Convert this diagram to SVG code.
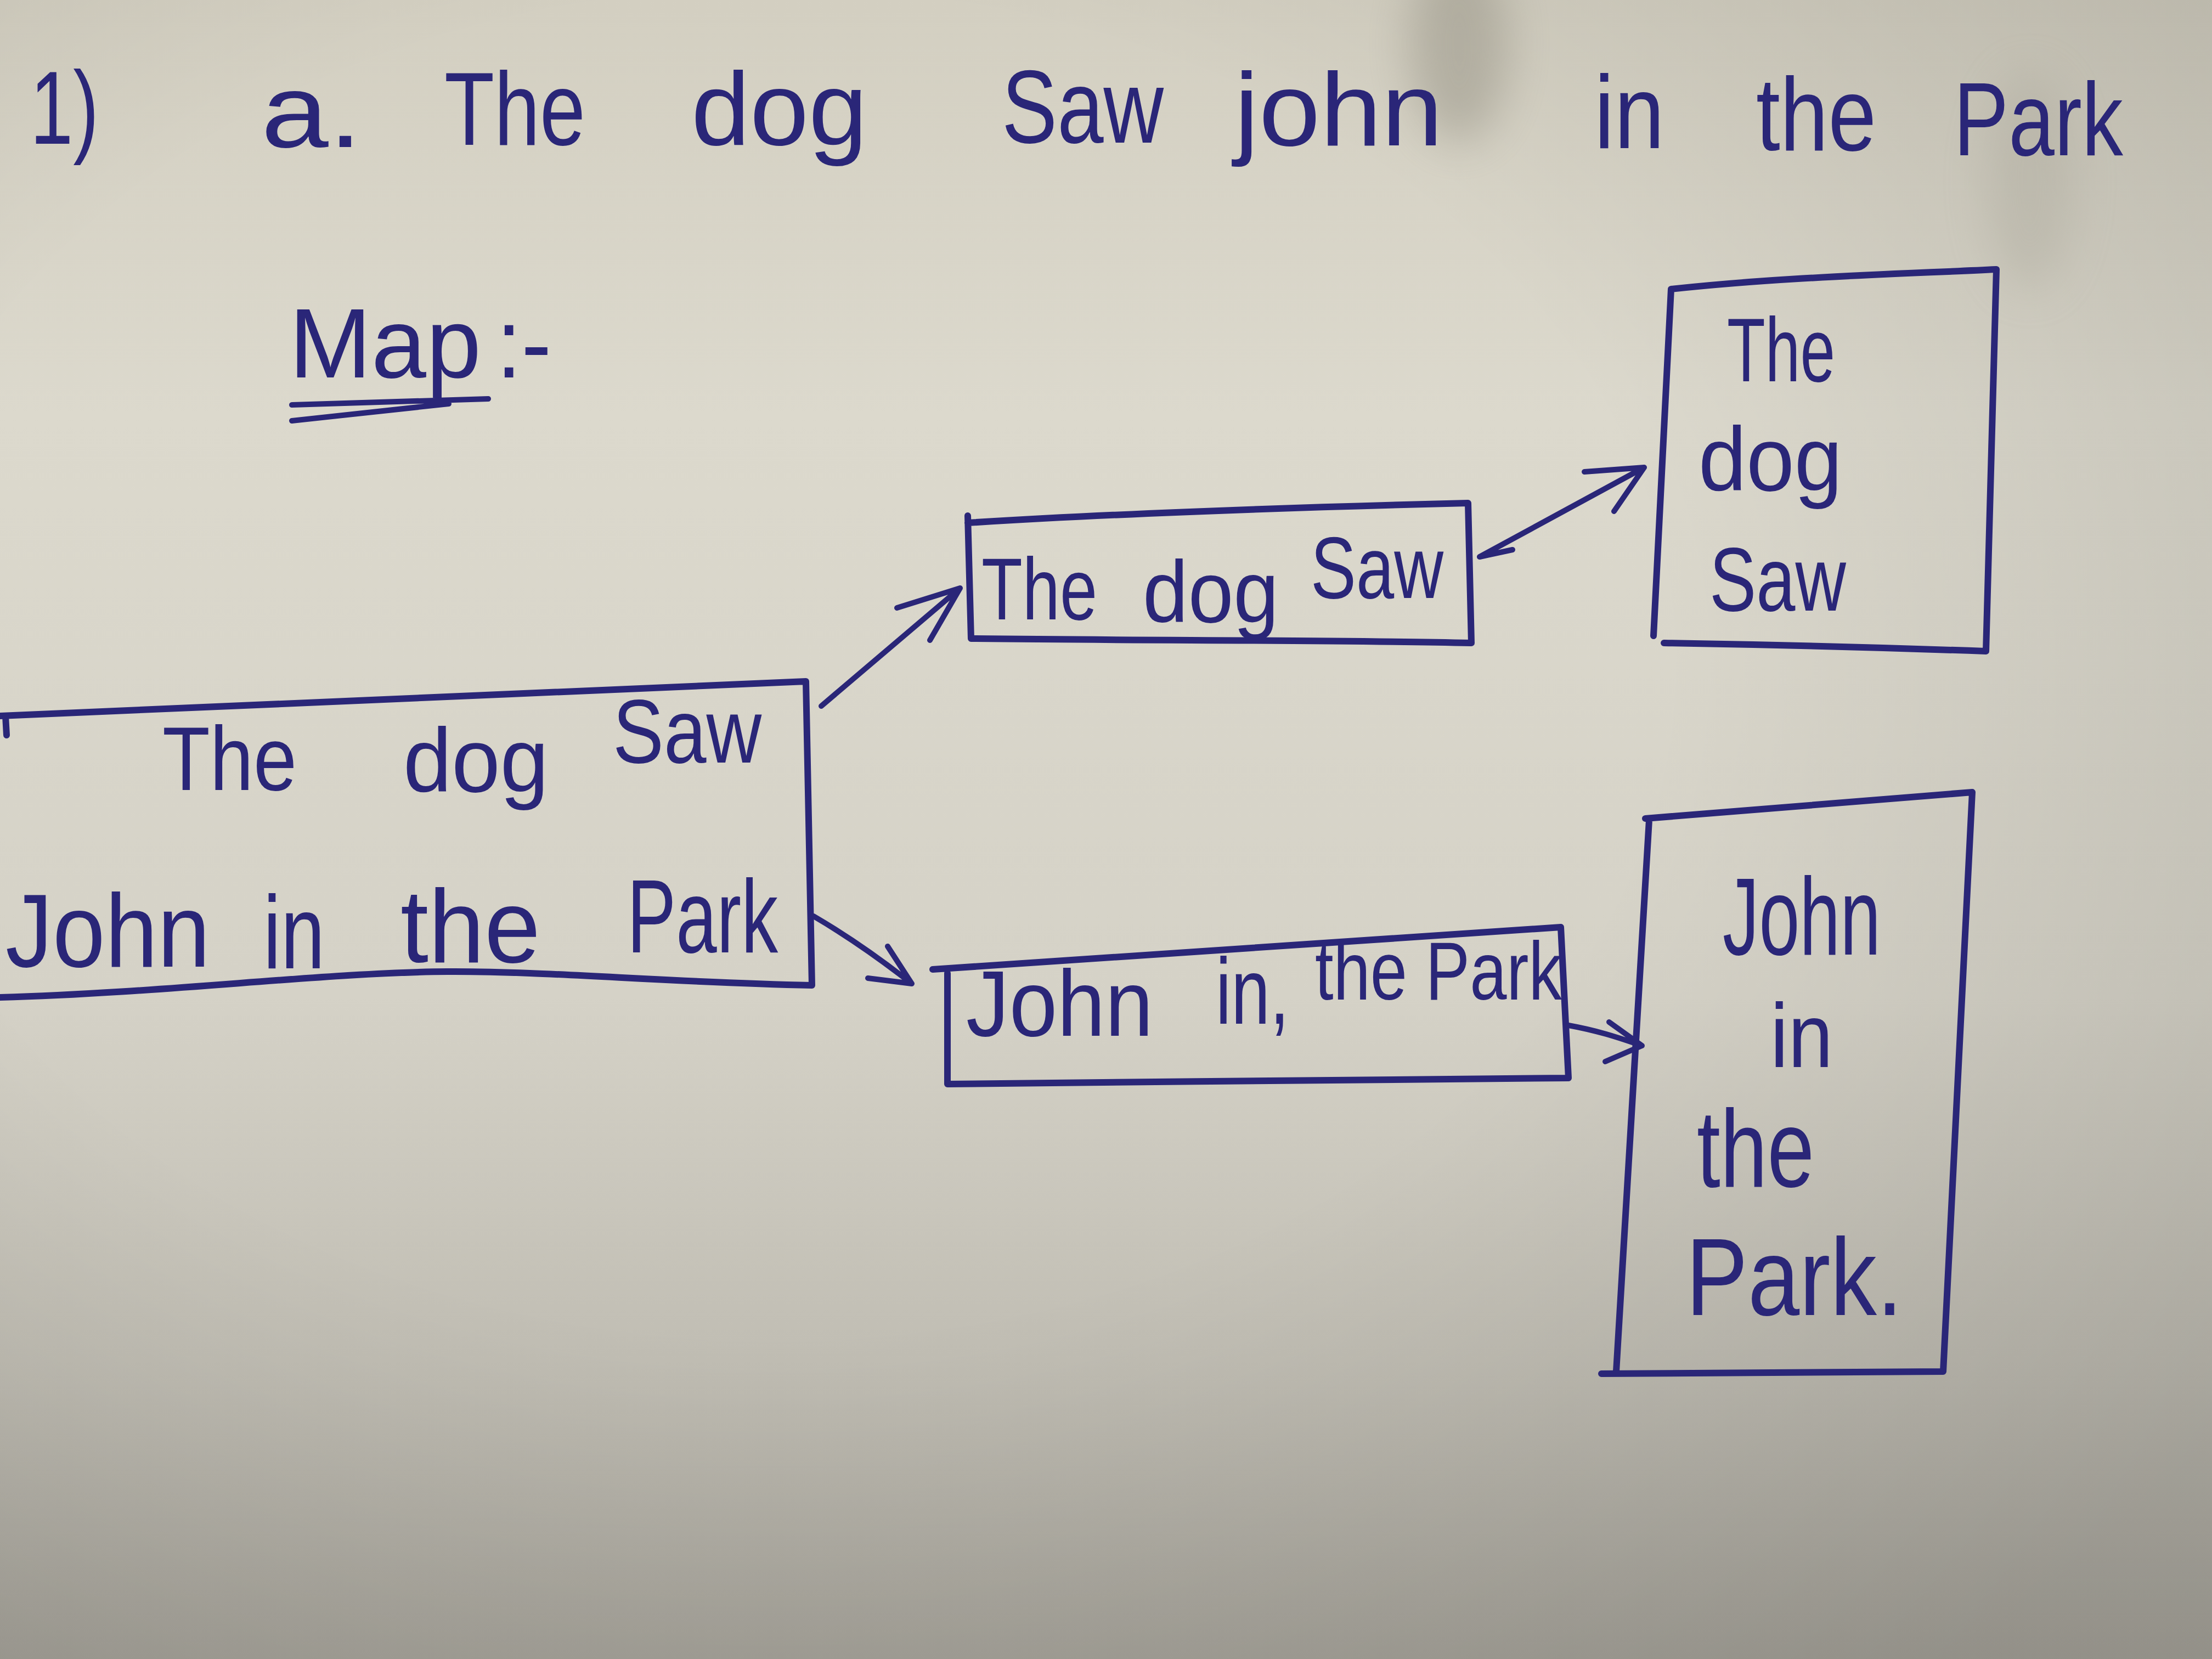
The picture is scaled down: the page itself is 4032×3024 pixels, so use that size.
<svg xmlns="http://www.w3.org/2000/svg" width="4032" height="3024" viewBox="0 0 4032 3024">
<defs>
<linearGradient id="paper" x1="0" y1="0" x2="0" y2="1">
<stop offset="0" stop-color="#d3cfc1"/>
<stop offset="0.25" stop-color="#dcd9cd"/>
<stop offset="0.6" stop-color="#d5d2c7"/>
<stop offset="0.82" stop-color="#c0bdb3"/>
<stop offset="1" stop-color="#a7a49b"/>
</linearGradient>
<radialGradient id="vign" cx="0.35" cy="0.4" r="0.8">
<stop offset="0.5" stop-color="#000" stop-opacity="0"/>
<stop offset="1" stop-color="#000" stop-opacity="0.12"/>
</radialGradient>
<filter id="blur" x="-50%" y="-50%" width="200%" height="200%"><feGaussianBlur stdDeviation="40"/></filter>
<style>
.ink{fill:none;stroke:#2a2678;stroke-width:12;stroke-linecap:round;stroke-linejoin:round}
.arr{fill:none;stroke:#2a2678;stroke-width:10;stroke-linecap:round;stroke-linejoin:round}
.t{font-family:"Liberation Sans","DejaVu Sans",sans-serif;fill:#2a2678}
</style>
</defs>
<rect width="4032" height="3024" fill="url(#paper)"/>
<rect width="4032" height="3024" fill="url(#vign)"/>
<ellipse cx="2660" cy="80" rx="90" ry="180" fill="#8f8b7e" opacity="0.45" filter="url(#blur)"/>
<ellipse cx="3700" cy="330" rx="80" ry="200" fill="#9c998c" opacity="0.25" filter="url(#blur)"/>

<g id="title">
<text class="t" font-size="190">
<tspan x="55" y="262" textLength="125" lengthAdjust="spacingAndGlyphs">1)</tspan>
<tspan x="476" y="268" textLength="184" lengthAdjust="spacingAndGlyphs">a.</tspan>
<tspan x="810" y="264" textLength="257" lengthAdjust="spacingAndGlyphs">The</tspan>
<tspan x="1260" y="264" textLength="321" lengthAdjust="spacingAndGlyphs">dog</tspan>
<tspan x="1826" y="260" textLength="295" lengthAdjust="spacingAndGlyphs">Saw</tspan>
<tspan x="2250" y="265" textLength="380" lengthAdjust="spacingAndGlyphs">john</tspan>
<tspan x="2906" y="270" textLength="128" lengthAdjust="spacingAndGlyphs">in</tspan>
<tspan x="3201" y="274" textLength="219" lengthAdjust="spacingAndGlyphs">the</tspan>
<tspan x="3561" y="283" textLength="309" lengthAdjust="spacingAndGlyphs">Park</tspan>
</text>
</g>

<g id="map-label">
<text class="t" font-size="180"><tspan x="527" y="688" textLength="350" lengthAdjust="spacingAndGlyphs">Map</tspan><tspan x="905" y="688" textLength="100" lengthAdjust="spacingAndGlyphs">:-</tspan></text>
<path class="arr" d="M532 738 L890 727 M532 767 L818 736"/>
</g>

<g id="node-sentence">
<path class="ink" d="M0 1305 L1469 1242 L1480 1796 C1200 1790 1000 1770 816 1771 C600 1772 300 1810 0 1818"/>
<path class="ink" d="M10 1305 L12 1340"/>
<text class="t" font-size="165">
<tspan x="296" y="1440" textLength="245" lengthAdjust="spacingAndGlyphs">The</tspan>
<tspan x="735" y="1443" textLength="265" lengthAdjust="spacingAndGlyphs">dog</tspan>
<tspan x="1117" y="1390" textLength="271" lengthAdjust="spacingAndGlyphs">Saw</tspan>
</text>
<text class="t" font-size="190">
<tspan x="10" y="1762" textLength="373" lengthAdjust="spacingAndGlyphs">John</tspan>
<tspan x="480" y="1765" textLength="112" lengthAdjust="spacingAndGlyphs">in</tspan>
<tspan x="730" y="1754" textLength="255" lengthAdjust="spacingAndGlyphs">the</tspan>
<tspan x="1143" y="1736" textLength="275" lengthAdjust="spacingAndGlyphs">Park</tspan>
</text>
</g>

<g id="node-dog-saw">
<path class="ink" d="M1764 940 L1770 1164 C2100 1168 2400 1166 2682 1172 L2676 917 C2350 925 2050 935 1764 953"/>
<text class="t" font-size="160">
<tspan x="1789" y="1129" textLength="211" lengthAdjust="spacingAndGlyphs">The</tspan>
<tspan x="2083" y="1134" textLength="248" lengthAdjust="spacingAndGlyphs">dog</tspan>
<tspan x="2389" y="1090" textLength="242" lengthAdjust="spacingAndGlyphs">Saw</tspan>
</text>
</g>

<g id="node-dog-saw-vertical">
<path class="ink" d="M3046 527 C3250 505 3450 500 3639 491 L3620 1187 C3420 1180 3220 1175 3033 1172 M3046 527 L3014 1159"/>
<text class="t" font-size="165">
<tspan x="3148" y="695" textLength="197" lengthAdjust="spacingAndGlyphs">The</tspan>
<tspan x="3096" y="894" textLength="262" lengthAdjust="spacingAndGlyphs">dog</tspan>
<tspan x="3116" y="1113" textLength="249" lengthAdjust="spacingAndGlyphs">Saw</tspan>
</text>
</g>

<g id="node-john-park">
<path class="ink" d="M1700 1767 C2100 1740 2500 1715 2845 1690 L2859 1965 C2500 1968 2100 1972 1727 1976 L1727 1774"/>
<text class="t">
<tspan x="1761" y="1888" font-size="170" textLength="341" lengthAdjust="spacingAndGlyphs">John</tspan>
<tspan x="2216" y="1866" font-size="170" textLength="134" lengthAdjust="spacingAndGlyphs">in,</tspan>
<tspan x="2397" y="1822" font-size="150" textLength="450" lengthAdjust="spacingAndGlyphs">the Park</tspan>
</text>
</g>

<g id="node-john-park-vertical">
<path class="ink" d="M2999 1492 C3200 1475 3400 1460 3595 1444 L3542 2500 C3330 2502 3120 2503 2919 2504 M3006 1495 L2946 2500"/>
<text class="t" font-size="200">
<tspan x="3140" y="1740" textLength="288" lengthAdjust="spacingAndGlyphs">John</tspan>
<tspan x="3227" y="1945" font-size="165" textLength="114" lengthAdjust="spacingAndGlyphs">in</tspan>
<tspan x="3093" y="2163" textLength="214" lengthAdjust="spacingAndGlyphs">the</tspan>
<tspan x="3073" y="2397" textLength="395" lengthAdjust="spacingAndGlyphs">Park.</tspan>
</text>
</g>

<g id="connectors">
<path class="arr" d="M1497 1287 L1750 1072 M1635 1108 L1750 1072 L1695 1167"/>
<path class="arr" d="M1483 1670 C1560 1715 1620 1760 1662 1793 M1618 1725 L1662 1793 L1582 1783"/>
<path class="arr" d="M2697 1015 L2997 852 M2888 860 L2997 852 L2942 932 M2697 1015 L2757 1002"/>
<path class="arr" d="M2859 1869 C2920 1880 2960 1895 2993 1906 M2933 1863 L2993 1906 L2926 1935"/>
</g>
</svg>
